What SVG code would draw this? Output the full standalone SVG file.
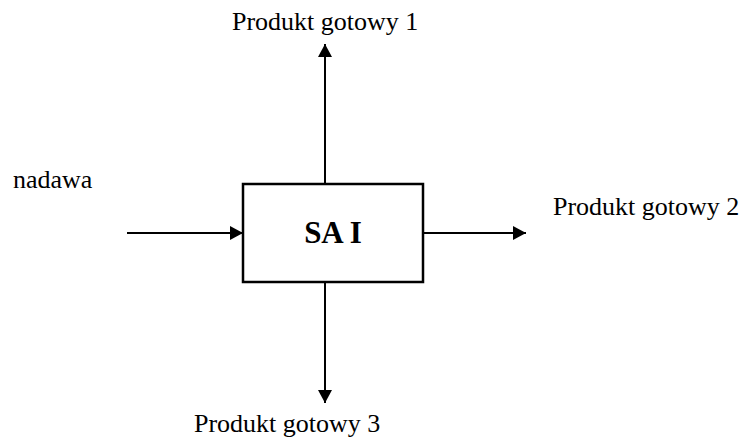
<svg xmlns="http://www.w3.org/2000/svg" width="748" height="440" viewBox="0 0 748 440">
<style>
.conn{stroke:#000;stroke-width:2;fill:none;marker-end:url(#ah)}
</style>
<defs>
<marker id="ah" viewBox="0 0 13 14" refX="13" refY="7" markerWidth="13" markerHeight="14" markerUnits="userSpaceOnUse" orient="auto">
<path d="M0,0 L13,7 L0,14 Z" fill="#000"/>
</marker>
</defs>
<rect width="748" height="440" fill="#fff"/>
<g id="connectors">
<line class="conn" x1="127" y1="233" x2="243" y2="233"/>
<line class="conn" x1="325" y1="184" x2="325" y2="44"/>
<line class="conn" x1="423" y1="233" x2="526" y2="233"/>
<line class="conn" x1="325" y1="282" x2="325" y2="403"/>
</g>
<g id="node-sai">
<rect x="243" y="184" width="180" height="98" fill="#fff" stroke="#000" stroke-width="2.5"/>
<text font-family="Liberation Serif" font-size="31" font-weight="bold" x="333" y="243" text-anchor="middle">SA I</text>
</g>
<g id="label-nadawa"><text font-family="Liberation Serif" font-size="26" x="13" y="188">nadawa</text></g>
<g id="label-p1"><text font-family="Liberation Serif" font-size="26" x="232" y="30">Produkt gotowy 1</text></g>
<g id="label-p2"><text font-family="Liberation Serif" font-size="26" x="553" y="215">Produkt gotowy 2</text></g>
<g id="label-p3"><text font-family="Liberation Serif" font-size="26" x="194" y="432">Produkt gotowy 3</text></g>
</svg>
